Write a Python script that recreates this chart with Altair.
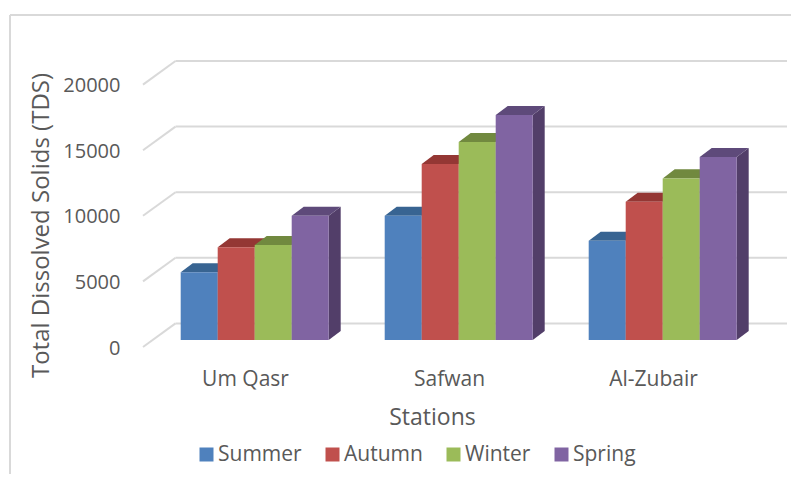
import altair as alt
import pandas as pd

stations = ["Um Qasr", "Safwan", "Al-Zubair"]
seasons = ["Summer", "Autumn", "Winter", "Spring"]
summer = [5160, 9475, 7570]
autumn = [7065, 13410, 10540]
winter = [7240, 15090, 12320]
spring = [9475, 17150, 13950]
y_ticks = [0, 5000, 10000, 15000, 20000]

front_cols = ["#4f81bd", "#c0504d", "#9bbb59", "#8064a2"]
top_cols = ["#386492", "#943734", "#71893f", "#5e4a7a"]
side_cols = ["#2f5480", "#7d2e2c", "#5f7335", "#523e69"]

series = [summer, autumn, winter, spring]
PX = 204.0          # pixels per station step
FONT = "Open Sans"
GREY = "#595959"
GRID = "#d9d9d9"

start, bw, dx = 37.7 / PX, 37.0 / PX, 12.0 / PX
base, dy = 533, 690          # bar lift and bar depth in TDS units
wall_dx, wall_dy = 32.5 / PX, 1800
x_max = 644 / PX
label_off = 0.5

fronts, tops, sides = [], [], []
for s, (name, vals) in enumerate(zip(seasons, series)):
    for i, v in enumerate(vals):
        x0 = i + start + s * bw
        x1 = x0 + bw
        h0, h1 = base, base + v
        pid = f"{s}-{i}"
        fronts.append(dict(season=name, x0=x0, x1=x1, y0=h0, y1=h1))
        tops += [dict(id=pid, fill=top_cols[s], y=h1, x=x0, x2=x1),
                 dict(id=pid, fill=top_cols[s], y=h1 + dy, x=x0 + dx, x2=x1 + dx)]
        sides += [dict(id=pid, fill=side_cols[s], x=x1, y=h0, y2=h1),
                  dict(id=pid, fill=side_cols[s], x=x1 + dx, y=h0 + dy, y2=h1 + dy)]

grid_rows, diag_rows = [], []
for t in y_ticks:
    grid_rows.append(dict(x=wall_dx, x2=x_max, y=t + wall_dy))
    diag_rows += [dict(t=t, x=0.0, y=t), dict(t=t, x=wall_dx, y=t + wall_dy)]

xs = alt.Scale(domain=[0, x_max], nice=False, zero=False, range=[0, 644], padding=0)
ys = alt.Scale(domain=[0, 21800], nice=False, zero=False, range=[286, 0], padding=0)

x_axis = alt.Axis(
    values=[i + label_off for i in range(len(stations))],
    labelExpr="['Um Qasr','Safwan','Al-Zubair'][round(datum.value-0.5)]",
    title="Stations", titleFont=FONT, titleFontSize=23, titleFontWeight="normal",
    titleColor=GREY, titleX=289, titleY=70, titleBaseline="middle", titleAlign="center",
    labelFont=FONT, labelFontSize=21, labelColor=GREY, labelPadding=21, labelFlush=False,
    labelOverlap=False, ticks=False, domain=False, grid=False,
)
y_axis = alt.Axis(
    values=y_ticks, format="d", title="Total Dissolved Solids (TDS)", titleFont=FONT, titleFontSize=24,
    titleFontWeight="normal", titleColor=GREY, titleX=-102, titleY=164,
    titleBaseline="middle", titleAlign="center",
    labelFont=FONT, labelFontSize=20, labelColor=GREY, labelPadding=23, labelOffset=1,
    ticks=False, domain=False, grid=False, labelOverlap=False,
)
X = alt.X("x:Q", scale=xs, axis=x_axis)
Y = alt.Y("y:Q", scale=ys, axis=y_axis)

grid = alt.Chart(pd.DataFrame(grid_rows)).mark_rule(color=GRID, strokeWidth=2).encode(
    x=X, x2="x2:Q", y=Y)
diag = alt.Chart(pd.DataFrame(diag_rows)).mark_line(color=GRID, strokeWidth=2).encode(
    x=X, y=Y, detail="t:N")
side = alt.Chart(pd.DataFrame(sides)).mark_area(orient="vertical").encode(
    x=X, y=alt.Y("y:Q", scale=ys, axis=y_axis, stack=None), y2="y2:Q", detail="id:N",
    fill=alt.Fill("fill:N", scale=None))
top = alt.Chart(pd.DataFrame(tops)).mark_area(orient="horizontal").encode(
    y=Y, x=alt.X("x:Q", scale=xs, axis=x_axis, stack=None), x2="x2:Q", detail="id:N",
    fill=alt.Fill("fill:N", scale=None))
front = alt.Chart(pd.DataFrame(fronts)).mark_rect().encode(
    x=alt.X("x0:Q", scale=xs, axis=x_axis), x2="x1:Q",
    y=alt.Y("y0:Q", scale=ys, axis=y_axis), y2="y1:Q",
    color=alt.Color("season:N", scale=alt.Scale(domain=seasons, range=front_cols),
                    sort=seasons,
                    legend=alt.Legend(orient="none", legendX=53, legendY=383, direction="horizontal",
                                      columns=4, title=None, symbolType="square", symbolSize=196,
                                      symbolStrokeWidth=0, labelFont=FONT, labelFontSize=21,
                                      labelColor=GREY, labelOffset=1, columnPadding=20,
                                      gridAlign="none")))
border_v = alt.Chart().mark_rule(color=GRID, strokeWidth=2).encode(
    x=alt.value(-133), y=alt.value(-46), y2=alt.value(430))
border_h = alt.Chart().mark_rule(color=GRID, strokeWidth=2).encode(
    x=alt.value(-133), x2=alt.value(660), y=alt.value(-46))

chart = alt.layer(border_v, border_h, grid, diag, side, top, front).properties(
    width=644, height=286,
    autosize=alt.AutoSizeParams(type="none"),
    padding={"left": 135, "top": 53, "right": 4, "bottom": 127},
    background="white",
).configure_view(stroke=None)

chart.save("out.html", embed_options={"renderer": "svg", "actions": False})
